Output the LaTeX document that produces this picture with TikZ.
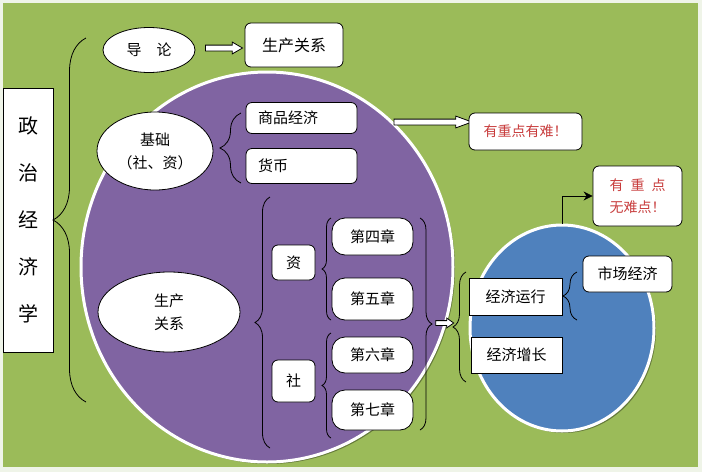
\documentclass[tikz,border=0pt]{standalone}
\usepackage{fontspec}
\setmainfont{Noto Sans CJK SC}
\usetikzlibrary{shapes.geometric,shapes.arrows,decorations.pathreplacing,shadows,arrows.meta}
\definecolor{fieldgreen}{RGB}{155,187,89}
\definecolor{prodpurple}{RGB}{128,100,162}
\definecolor{runblue}{RGB}{79,129,189}
\definecolor{pagebg}{RGB}{239,244,232}
\definecolor{hardred}{RGB}{200,60,60}

\begin{document}
\begin{tikzpicture}
  [x=1pt,y=-1pt,font=\fontsize{15}{18}\selectfont,
   every node/.style={draw,fill=white,inner sep=0pt,align=center},
   box/.style={rectangle,rounded corners=6pt,thick},
   sqbox/.style={rectangle,thick},
   chap/.style={rectangle,rounded corners=13pt,thick,minimum width=81pt},
   oval/.style={ellipse,thick,font=\fontsize{15}{23}\selectfont},
   bigcircle/.style={ellipse,draw=white,line width=3pt,
     drop shadow={shadow xshift=2pt,shadow yshift=-2pt,opacity=0.35,fill=black}},
   fat/.style={single arrow,thick,inner xsep=0pt,inner ysep=2.5pt,
     single arrow head extend=3pt},
   curly/.style={decorate,decoration={brace,amplitude=#1},thick}]

  % background
  \fill[pagebg] (0,0) rectangle (702,472);
  \fill[fieldgreen] (3,3) rectangle (698,467);

  % circles
  \node[bigcircle,fill=prodpurple,minimum width=372pt,minimum height=390pt] (prod) at (267,267) {};
  \node[bigcircle,fill=runblue,minimum width=184pt,minimum height=206pt] (run) at (562,328) {};

  \node[thick,minimum width=50pt,minimum height=264pt,font=\fontsize{20}{47}\selectfont] (pol) at (28,220) {政\\治\\经\\济\\学};

  \node[oval,minimum width=92pt,minimum height=45pt] (intro) at (149,50) {导\quad 论};
  \node[box,minimum width=98pt,minimum height=44pt,font=\fontsize{16}{19}\selectfont] (rel) at (294,45) {生产关系};
  \node[fat,minimum height=37pt,single arrow tip angle=60] (a1) at (221.5,48) {};

  \node[oval,minimum width=116pt,minimum height=78pt] (base) at (155,151) {基础\\（社、资）};
  \node[box,text width=87pt,inner xsep=12pt,minimum height=31pt,align=left] (goods) at (301.5,118) {商品经济};
  \node[box,text width=87pt,inner xsep=12pt,minimum height=35pt,align=left] (money) at (301.5,166) {货币};
  \node[fat,minimum height=78pt,single arrow tip angle=40] (a2) at (429,122) {};
  \node[box,minimum width=113pt,minimum height=37pt,text=hardred,font=\fontsize{14}{18}\selectfont] (hard) at (525.5,131.5) {有重点有难！};

  \node[oval,minimum width=142pt,minimum height=80pt] (prodrel) at (169,312) {生产\\关系};
  \node[box,minimum width=43pt,minimum height=35pt] (zi) at (293.5,262.5) {资};
  \node[box,minimum width=43pt,minimum height=42pt] (she) at (293.5,381) {社};
  \node[chap,minimum height=37pt] (ch4) at (372.5,236.5) {第四章};
  \node[chap,minimum height=42pt] (ch5) at (372.5,299) {第五章};
  \node[chap,minimum height=36pt] (ch6) at (372.5,355) {第六章};
  \node[chap,minimum height=40pt] (ch7) at (372.5,410) {第七章};
  \node[fat,minimum height=18pt,inner ysep=2pt,single arrow head extend=2.5pt,single arrow tip angle=70] (a3) at (443,323) {};

  \node[sqbox,minimum width=93pt,minimum height=37pt] (oper) at (515.5,296.5) {经济运行};
  \node[sqbox,minimum width=91pt,minimum height=36pt] (grow) at (516.5,355) {经济增长};
  \node[box,minimum width=89pt,minimum height=36pt] (market) at (627.5,274) {市场经济};
  \node[box,minimum width=89pt,minimum height=60pt,text=hardred,font=\fontsize{14}{22}\selectfont] (easy) at (637.5,196) {有\enspace 重\enspace 点\\无难点！};

  \draw[thick,-{Stealth[length=9pt,width=9pt]}] (run.north) |- (easy.west);

  % braces
  \foreach \x/\ya/\yb/\amp in {86/402/38/33,241/183/113/21,270/448/197/15,331/320/218/9,331/438/333/9,466/382/272/13,577/320/272/14,420/218/430/12}
    \draw[curly=\amp] (\x,\ya) -- (\x,\yb);
\end{tikzpicture}
\end{document}
